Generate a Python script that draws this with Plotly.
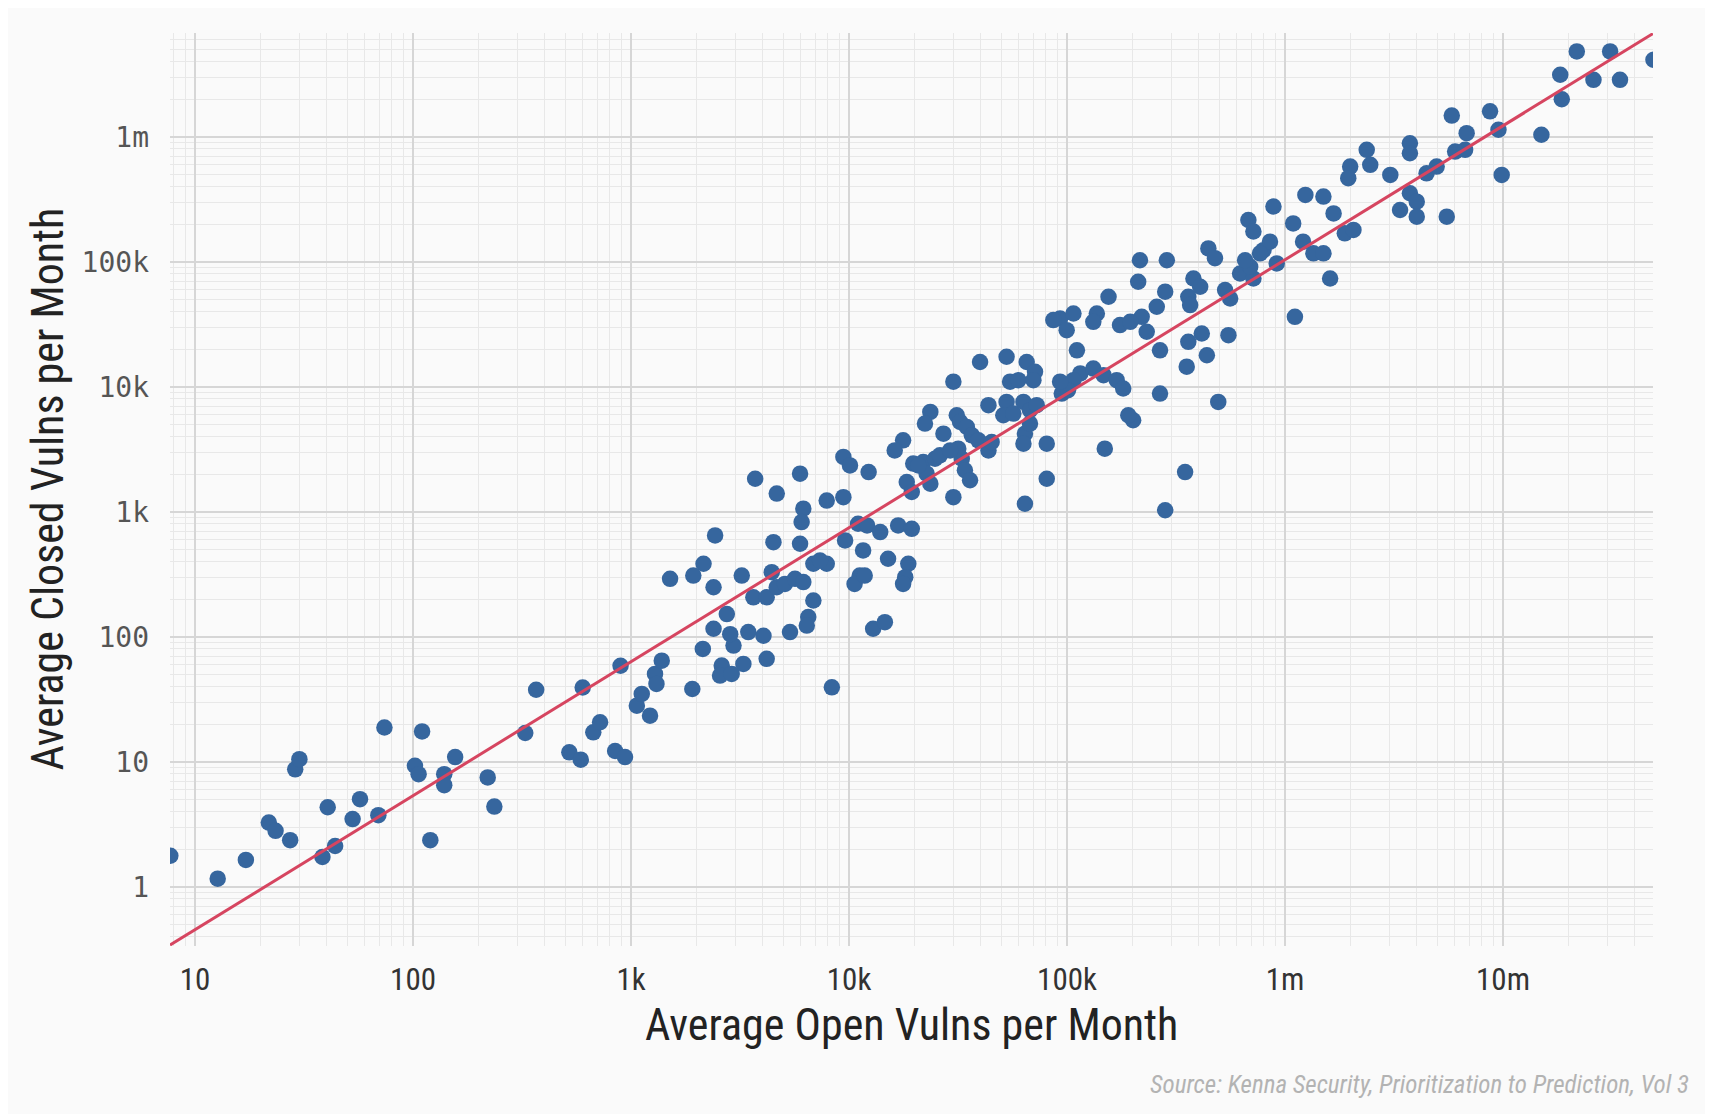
import numpy as np
import plotly.graph_objects as go

# ---- data ----
small_open = [7.7, 12.7, 17.1, 21.8, 23.4, 27.3, 28.8, 30.1, 40.6, 38.4,
              43.9, 52.8, 57.1, 69.3, 73.9, 102, 106, 110, 120, 139,
              139, 156, 220, 236, 327, 367, 521, 588, 600, 671,
              721, 845, 938, 895, 1063, 1120, 1222, 1288, 1383, 1308]
small_closed = [1.77, 1.16, 1.64, 3.26, 2.8, 2.36, 8.7, 10.5, 4.33, 1.73,
                2.12, 3.48, 5.02, 3.74, 18.8, 9.3, 7.96, 17.5, 2.36, 7.96,
                6.5, 10.9, 7.5, 4.38, 17, 37.7, 11.9, 10.4, 39.3, 17.2,
                20.7, 12.2, 10.9, 58.7, 28.1, 34.9, 23.4, 50.5, 64.4, 42]

mid_open = [2134, 2951, 2606, 2560, 2895, 3275, 4190, 1910, 8340,
            5960, 3710, 4660, 7900, 9420, 6170, 6060, 9590, 5960, 4500,
            2430, 2150, 1930, 1510, 2390, 3220, 4420, 3640, 4190, 4660,
            5080, 5650, 6170, 6860, 6500, 6400, 5360, 4050, 3450, 2850,
            2750, 2390, 6860, 7900, 7360]
mid_closed = [80, 85, 58.8, 48.9, 50.5, 60.7, 66.6, 38.2, 39.4,
              2020, 1840, 1400, 1230, 1310, 1060, 828, 590, 555, 572,
              647, 384, 309, 291, 249, 309, 329, 207, 207, 249,
              265, 291, 274, 195, 144, 123, 109, 102, 109, 105,
              152, 116, 384, 384, 408]

large_open = [9420, 10100, 12300, 11000, 12100, 13900, 16800, 19400, 11600, 15100,
              18700, 18100, 17700, 11200, 10600, 11800, 12900, 14600,
              17700, 16200, 19700, 21900, 24800, 26100, 22700, 23600, 18400, 19400, 20800,
              23600, 22300, 31200, 32300, 34700, 36600, 27100, 39200, 43600, 45100,
              31700, 32900, 34000, 35900, 30100, 29100,
              30100, 43600, 52800, 51000, 56700, 63100, 67600, 72600, 64100, 63100,
              67600, 94600, 115000, 107000, 101000,
              52800, 39900, 65300, 71300, 54800, 59800, 70100, 92900, 111000, 132000,
              147000, 169000, 181000, 201000, 191000, 149000, 80700, 80700, 64100, 267000,
              267000, 282000]
large_closed = [2750, 2350, 2080, 802, 778, 688, 778, 731, 491, 421,
                384, 300, 265, 309, 265, 309, 116, 131,
                3730, 3100, 2430, 2500, 2660, 2830, 2020, 1680, 1730, 1440, 2350,
                6300, 5080, 5920, 5240, 4780, 4090, 4220, 3730, 3100, 3620,
                3200, 2660, 2150, 1790, 1310, 3100,
                11000, 7130, 7570, 5920, 6110, 7570, 6490, 7130, 4220, 3510,
                5080, 8830, 12800, 11300, 9400,
                17400, 15800, 15800, 13200, 11000, 11300, 11300, 11000, 19600, 14000,
                12400, 11300, 9690, 5400, 5920, 3200, 3510, 1840, 1160, 19600,
                8830, 1030]

xl_open = [216000, 212000, 155000, 287000, 282000, 258000, 220000, 92900, 107000, 137000,
           132000, 175000, 195000, 99600, 232000, 86500,
           438000, 354000, 494000, 348000, 360000,
           445000, 477000, 380000, 531000, 560000, 622000, 716000, 360000, 408000, 367000,
           415000, 550000, 796000, 692000,
           885000, 679000, 1090000, 716000, 853000, 768000, 656000, 916000, 1210000, 1350000,
           1500000, 1610000, 1110000,
           1240000, 1500000, 1670000, 1880000, 2060000, 2370000, 2460000, 1990000, 1950000, 3040000,
           4460000, 4960000, 3740000, 4020000, 3370000, 4020000, 5520000, 3740000, 3740000,
           5820000, 8720000, 6810000, 9530000, 15000000, 6030000, 6700000, 9860000,
           21800000, 31000000, 49000000, 18300000, 26000000, 34400000, 18600000]
xl_closed = [103000, 69300, 52600, 103000, 57700, 43700, 36300, 35200, 38600, 38600,
             33100, 31200, 33100, 28400, 27600, 34200,
             17900, 14500, 7570, 2080, 22900,
             128000, 107000, 73600, 59400, 50900, 80700, 73600, 52600, 63200, 45100,
             26700, 25900, 124000, 91400,
             277000, 216000, 203000, 175000, 145000, 117000, 103000, 97200, 145000, 117000,
             117000, 73600, 36300,
             343000, 333000, 244000, 169000, 180000, 787000, 597000, 578000, 467000, 496000,
             511000, 578000, 354000, 303000, 260000, 230000, 230000, 889000, 739000,
             1480000, 1600000, 1070000, 1140000, 1040000, 762000, 787000, 496000,
             4830000, 4830000, 4140000, 3140000, 2860000, 2860000, 2000000]

# fitted trend line: log10(closed) = slope * log10(open) + intercept
fit_slope = 1.072
fit_intercept = -1.415

x_title = "Average Open Vulns per Month"
y_title = "Average Closed Vulns per Month"
source_text = "Source: Kenna Security, Prioritization to Prediction, Vol 3"

# ---- styling ----
POINT_COLOR = "#36669e"
LINE_COLOR = "#d64560"
BG = "#fafafa"
GRID_MAJOR = "#d6d6d6"
GRID_MINOR = "#e8e8e8"
COND_FONT = "Liberation Sans Narrow, Roboto Condensed, Lato, sans-serif"

x_range = [0.885, 7.688]
y_range = [-0.474, 6.831]

open_vulns = small_open + mid_open + large_open + xl_open
closed_vulns = small_closed + mid_closed + large_closed + xl_closed

line_x = np.logspace(x_range[0], x_range[1], 60)
line_y = 10 ** fit_intercept * line_x ** fit_slope

fig = go.Figure()
fig.add_trace(go.Scatter(
    x=open_vulns, y=closed_vulns, mode="markers",
    marker=dict(size=16.5, color=POINT_COLOR, line=dict(width=0)),
    cliponaxis=True, hoverinfo="x+y"))
fig.add_trace(go.Scatter(
    x=line_x, y=line_y, mode="lines",
    line=dict(color=LINE_COLOR, width=3), hoverinfo="skip"))

axis_common = dict(
    type="log", dtick=1, tickformat="~s",
    labelalias={"1M": "1m", "10M": "10m"},
    showgrid=True, gridcolor=GRID_MAJOR, gridwidth=2,
    minor=dict(dtick="D1", showgrid=True, gridcolor=GRID_MINOR, gridwidth=1),
    zeroline=False, showline=False, ticks="",
)

fig.update_layout(
    width=1705, height=1106, autosize=False,
    margin=dict(l=162, r=60, t=25, b=168),
    paper_bgcolor=BG, plot_bgcolor=BG,
    showlegend=False,
    xaxis=dict(range=x_range,
               tickfont=dict(family=COND_FONT, size=31, color="#333333"),
               ticklabelstandoff=12, **axis_common),
    yaxis=dict(range=y_range,
               tickfont=dict(family="DejaVu Sans Mono, monospace", size=28, color="#555555"),
               ticklabelstandoff=20, **axis_common),
    annotations=[
        dict(text=x_title, x=0.5, y=-0.0865, xref="paper", yref="paper",
             xanchor="center", yanchor="middle", showarrow=False,
             font=dict(family=COND_FONT, size=44, color="#222222")),
        dict(text=y_title, x=-0.0829, y=0.5, xref="paper", yref="paper",
             xanchor="center", yanchor="middle", showarrow=False, textangle=-90,
             font=dict(family=COND_FONT, size=44, color="#222222")),
        dict(text="<i>" + source_text + "</i>", x=1.0256, y=-0.1522,
             xref="paper", yref="paper", xanchor="right", yanchor="middle",
             showarrow=False,
             font=dict(family=COND_FONT, size=25, color="#b3b3b3")),
    ],
)

fig.write_html("out.html")
